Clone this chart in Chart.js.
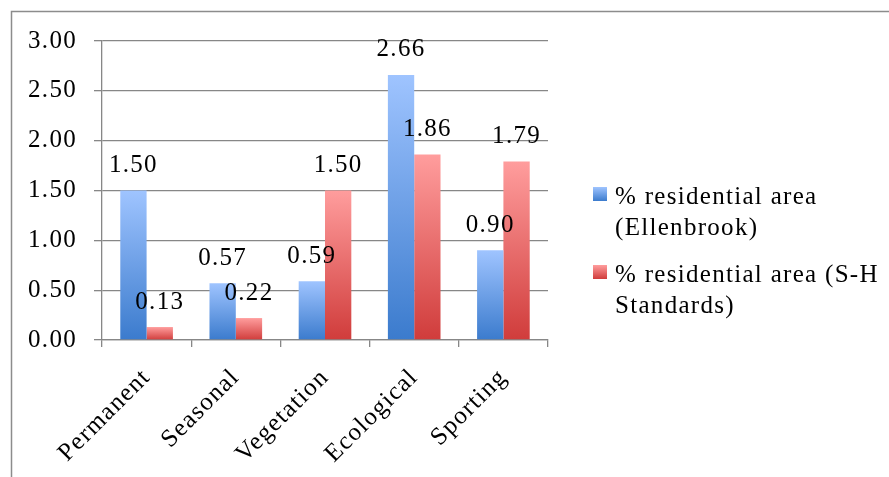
<!DOCTYPE html>
<html>
<head>
<meta charset="utf-8">
<script src="https://cdn.jsdelivr.net/npm/chart.js@4/dist/chart.umd.min.js"></script>
<style>
  html, body { margin: 0; padding: 0; background: #fff; }
  #wrap { position: relative; width: 889px; height: 477px; }
</style>
</head>
<body>
<div id="wrap"><canvas id="c" width="889" height="477"></canvas></div>
<script>
// Green space provision as % of residential area
const categories = ['Permanent', 'Seasonal', 'Vegetation', 'Ecological', 'Sporting'];
const ellenbrook = [1.50, 0.57, 0.59, 2.66, 0.90];
const shStandards = [0.13, 0.22, 1.50, 1.86, 1.79];
const seriesNames = ['% residential area (Ellenbrook)', '% residential area (S-H Standards)'];
const legendLines = [['% residential area', '(Ellenbrook)'], ['% residential area (S-H', 'Standards)']];
const yTicks = [0, 0.5, 1, 1.5, 2, 2.5, 3];

const FONT = 'Liberation Serif';
const FSIZE = 25;
const SPACING = '1.3px';
const GRID = '#878787';
const palette = [
  { top: '#9fc4ff', bottom: '#3b7bcd' },
  { top: '#ff9d9d', bottom: '#d03c3b' }
];

function barGradient(ctx, di) {
  const chart = ctx.chart;
  const y = chart.scales && chart.scales.y;
  if (!y || ctx.raw === undefined) return palette[di].top;
  const yTop = y.getPixelForValue(ctx.raw);
  const yBot = y.getPixelForValue(0);
  if (!isFinite(yTop) || !isFinite(yBot) || yTop === yBot) return palette[di].bottom;
  const g = chart.ctx.createLinearGradient(0, yTop, 0, yBot);
  g.addColorStop(0, palette[di].top);
  g.addColorStop(1, palette[di].bottom);
  return g;
}

// Wider letter spacing for all text on the canvas
const spacingPlugin = {
  id: 'spacing',
  beforeLayout(chart) { chart.ctx.letterSpacing = SPACING; },
  beforeDraw(chart) { chart.ctx.letterSpacing = SPACING; }
};

// Outer frame of the chart object
const framePlugin = {
  id: 'frame',
  beforeDraw(chart) {
    const c = chart.ctx;
    c.save();
    c.strokeStyle = '#8c8c8c';
    c.lineWidth = 1.5;
    c.strokeRect(11.5, 11.5, chart.width + 20, chart.height + 20);
    c.restore();
  }
};

// Value labels above each bar
const valueLabels = {
  id: 'valueLabels',
  afterDatasetsDraw(chart) {
    const c = chart.ctx;
    c.save();
    c.font = FSIZE + 'px "' + FONT + '"';
    c.fillStyle = '#000';
    c.textAlign = 'center';
    c.textBaseline = 'middle';
    chart.data.datasets.forEach((ds, di) => {
      chart.getDatasetMeta(di).data.forEach((bar, i) => {
        c.fillText(ds.data[i].toFixed(2), bar.x, bar.y - 25);
      });
    });
    c.restore();
  }
};

// Two-line legend on the right
const sideLegend = {
  id: 'sideLegend',
  afterDraw(chart) {
    const c = chart.ctx;
    c.save();
    c.font = FSIZE + 'px "' + FONT + '"';
    c.textAlign = 'left';
    c.textBaseline = 'middle';
    const entries = [{ y: 197 }, { y: 275 }];
    entries.forEach((e, di) => {
      const g = c.createLinearGradient(0, e.y - 10, 0, e.y + 4);
      g.addColorStop(0, palette[di].top);
      g.addColorStop(1, palette[di].bottom);
      c.fillStyle = g;
      c.fillRect(593, e.y - 10, 14, 14);
      c.fillStyle = '#000';
      legendLines[di].forEach((line, li) => {
        c.fillText(line, 615, e.y + li * 31);
      });
    });
    c.restore();
  }
};

new Chart(document.getElementById('c'), {
  type: 'bar',
  data: {
    labels: categories,
    datasets: [
      { label: seriesNames[0], data: ellenbrook, backgroundColor: (ctx) => barGradient(ctx, 0) },
      { label: seriesNames[1], data: shStandards, backgroundColor: (ctx) => barGradient(ctx, 1) }
    ]
  },
  options: {
    responsive: false,
    animation: false,
    events: [],
    layout: { padding: { left: 20, right: 341, top: 41, bottom: 0 } },
    datasets: { bar: { categoryPercentage: 0.59, barPercentage: 1.0 } },
    plugins: { legend: { display: false }, tooltip: { enabled: false } },
    scales: {
      x: {
        grid: { display: true, drawOnChartArea: false, drawTicks: true, tickLength: 7, color: GRID, lineWidth: 1.3, offset: true },
        border: { display: true, color: GRID, width: 1.3 },
        ticks: {
          color: '#000', font: { family: FONT, size: FSIZE },
          minRotation: 45, maxRotation: 45, padding: 16
        },
        afterFit(scale) { scale.height = 477 - 340; }
      },
      y: {
        min: 0, max: 3,
        afterBuildTicks(scale) { scale.ticks = yTicks.map(v => ({ value: v })); },
        grid: { color: GRID, lineWidth: 1.3, drawTicks: true, tickLength: 8 },
        border: { display: true, color: GRID, width: 1.3 },
        ticks: {
          color: '#000', font: { family: FONT, size: FSIZE }, padding: 17,
          callback: (v) => Number(v).toFixed(2)
        },
        afterFit(scale) { scale.width = 102 - 20; }
      }
    }
  },
  plugins: [spacingPlugin, framePlugin, valueLabels, sideLegend]
});
</script>
</body>
</html>
